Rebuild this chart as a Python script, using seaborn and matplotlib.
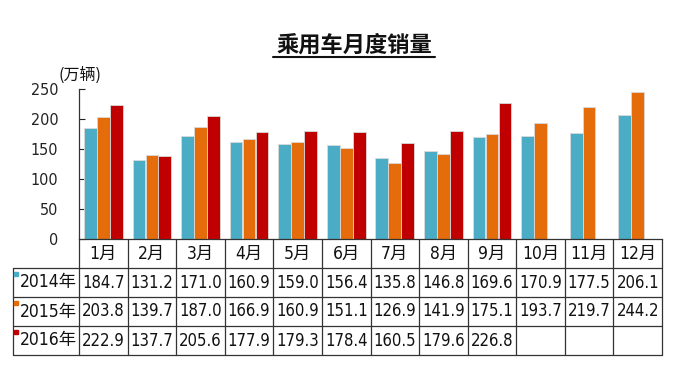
import numpy as np
import pandas as pd
import matplotlib
matplotlib.use("Agg")
import matplotlib.pyplot as plt
import matplotlib.transforms as mtransforms
from matplotlib.lines import Line2D
import seaborn as sns

months = ["1月", "2月", "3月", "4月", "5月", "6月", "7月", "8月", "9月", "10月", "11月", "12月"]
years = ["2014年", "2015年", "2016年"]
sales_2014 = [184.7, 131.2, 171.0, 160.9, 159.0, 156.4, 135.8, 146.8, 169.6, 170.9, 177.5, 206.1]
sales_2015 = [203.8, 139.7, 187.0, 166.9, 160.9, 151.1, 126.9, 141.9, 175.1, 193.7, 219.7, 244.2]
sales_2016 = [222.9, 137.7, 205.6, 177.9, 179.3, 178.4, 160.5, 179.6, 226.8, np.nan, np.nan, np.nan]
colors = ["#4BACC6", "#E46C0A", "#C00000"]
yticks = [0, 50, 100, 150, 200, 250]

sns.set_theme(style="white")
plt.rcParams['font.family'] = ['DejaVu Sans', 'Noto Sans CJK SC']
plt.rcParams['font.stretch'] = 'condensed'

series = [sales_2014, sales_2015, sales_2016]
df = pd.DataFrame({
    "month": months * 3,
    "year": np.repeat(years, len(months)),
    "sales": sales_2014 + sales_2015 + sales_2016,
})

W, H = 675, 369
fig = plt.figure(figsize=(W / 100, H / 100), dpi=100)
ax = fig.add_axes([79 / W, 1 - 239 / H, (662 - 79) / W, 150 / H])

sns.barplot(data=df, x="month", y="sales", hue="year", order=months, hue_order=years,
            palette=colors, saturation=1, width=0.8, gap=0.02, errorbar=None,
            edgecolor="#DADADA", linewidth=0.6, legend=False, ax=ax)

ax.set_xlim(-0.5, len(months) - 0.5)
ax.set_ylim(0, 250)
ax.set_yticks(yticks)
ax.set_yticklabels([str(t) for t in yticks], fontsize=11.5)
ax.tick_params(axis="y", direction="in", length=4, width=0.8, pad=15, left=True, colors="#222222")
ax.set_xticks([])
ax.set_xlabel("")
ax.set_ylabel("")
for s in ["top", "right"]:
    ax.spines[s].set_visible(False)
ax.spines["left"].set_color("#333333")
ax.spines["left"].set_linewidth(0.9)
ax.spines["bottom"].set_color("#333333")
ax.spines["bottom"].set_linewidth(0.9)

# data table under the bars
trans = mtransforms.blended_transform_factory(ax.transData, ax.transAxes)
row_h = 29 / 150
n = len(months)
left_x = -0.5 - 66 / (583 / n)
line_kw = dict(color="#333333", lw=0.9, transform=trans, clip_on=False)

for k in range(1, 5):
    ax.plot([left_x, n - 0.5], [-k * row_h, -k * row_h], **line_kw)
for i in range(n + 1):
    ax.plot([i - 0.5, i - 0.5], [0, -4 * row_h], **line_kw)
ax.plot([left_x, left_x], [-row_h, -4 * row_h], **line_kw)

for i, m in enumerate(months):
    ax.text(i, -0.5 * row_h, m, ha="center", va="center", fontsize=12.5,
            transform=trans, color="#111111")

for r, (yr, vals, c) in enumerate(zip(years, series, colors)):
    yc = -(r + 1.5) * row_h
    ax.plot([left_x + 0.07], [yc + 0.055], marker="s", ms=3.5, color=c,
            transform=trans, clip_on=False, lw=0)
    ax.text(left_x + 0.15, yc, yr, ha="left", va="center", fontsize=12.5,
            transform=trans, color="#111111")
    for i, v in enumerate(vals):
        if not np.isnan(v):
            ax.text(i, yc, f"{v:.1f}", ha="center", va="center", fontsize=12,
                    transform=trans, color="#111111")

# title and unit
fig.text(354 / W, 1 - 45 / H, "乘用车月度销量", ha="center", va="center",
         fontsize=16, fontweight="bold", family=["Noto Sans CJK SC"], color="#111111")
fig.add_artist(Line2D([273 / W, 435 / W], [1 - 57 / H, 1 - 57 / H],
                      color="#111111", lw=1.5, transform=fig.transFigure))
fig.text(80 / W, 1 - 75 / H, "(万辆)", ha="center", va="center", fontsize=11.5,
         family=["Noto Sans CJK SC"], color="#111111")

fig.savefig("out.png", dpi=100)
